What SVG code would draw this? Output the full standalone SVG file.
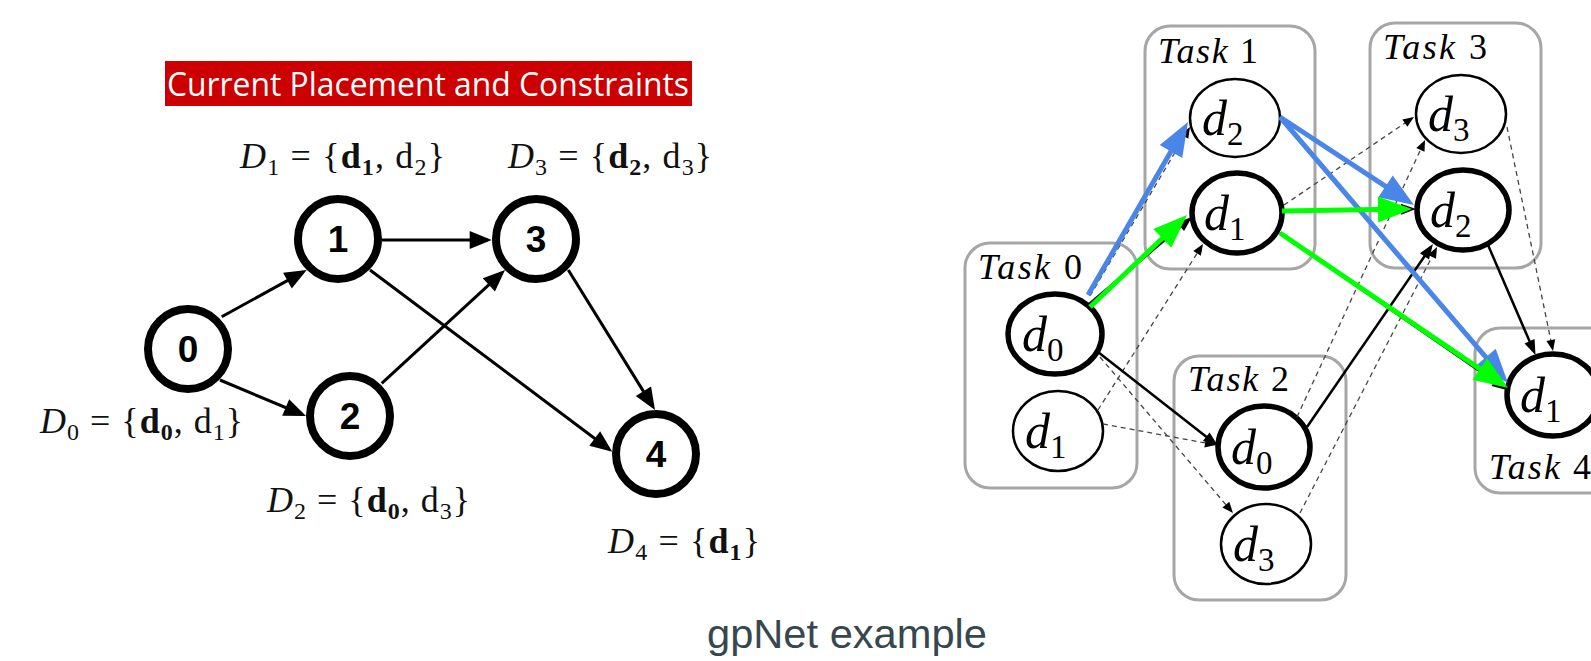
<svg xmlns="http://www.w3.org/2000/svg" width="1591" height="661" viewBox="0 0 1591 661">
<style>
.math{font-family:"Liberation Serif",serif;font-size:36px;fill:#111}
.it{font-style:italic}
.bd{font-weight:bold}
.sub{font-size:24px}
.num{font-family:"Liberation Sans",Arial,sans-serif;font-weight:bold;font-size:37px;text-anchor:middle;fill:#000}
.lnode{fill:#fff;stroke:#000;stroke-width:8}
.ledge{stroke:#000;stroke-width:3;fill:none}
.box{fill:none;stroke:#a6a6a6;stroke-width:3}
.tl{font-family:"Liberation Serif",serif;font-size:36px;fill:#000}
.thin{fill:#fff;stroke:#000;stroke-width:2.5}
.bold{fill:#fff;stroke:#000;stroke-width:5.5}
.dl{font-family:"Liberation Serif",serif;font-size:50px;fill:#000}
.ds{font-size:33px;font-style:normal}
.solid{stroke:#000;stroke-width:2.5;fill:none}
.dash{stroke:#444;stroke-width:1.3;stroke-dasharray:5 4;fill:none}
.blue{stroke:#4a86e8;stroke-width:5;fill:none}
.green{stroke:#00ff00;stroke-width:5;fill:none}
</style>
<defs>
<marker id="aL" markerUnits="userSpaceOnUse" markerWidth="22" markerHeight="18" refX="18" refY="9" orient="auto" overflow="visible"><path d="M0,0 L22,9 L0,18 z" fill="#000"/></marker>
<marker id="aR" markerUnits="userSpaceOnUse" markerWidth="15" markerHeight="11" refX="11" refY="5.5" orient="auto" overflow="visible"><path d="M0,0 L15,5.5 L0,11 z" fill="#000"/></marker>
<marker id="aD" markerUnits="userSpaceOnUse" markerWidth="11" markerHeight="9" refX="9" refY="4.5" orient="auto" overflow="visible"><path d="M0,0 L11,4.5 L0,9 z" fill="#000"/></marker>
<marker id="aB" markerUnits="userSpaceOnUse" markerWidth="34" markerHeight="26" refX="27" refY="13" orient="auto" overflow="visible"><path d="M0,0 L34,13 L0,26 z" fill="#4a86e8"/></marker>
<marker id="aG" markerUnits="userSpaceOnUse" markerWidth="34" markerHeight="26" refX="27" refY="13" orient="auto" overflow="visible"><path d="M0,0 L34,13 L0,26 z" fill="#00ff00"/></marker>
</defs>
<rect width="1591" height="661" fill="#fff"/>

<g id="title">
<rect x="165" y="61" width="527" height="45" fill="#cc0000"/>
<text x="167" y="96" font-family="'Open Sans',sans-serif" font-size="33" fill="#fff" textLength="522" lengthAdjust="spacingAndGlyphs">Current Placement and Constraints</text>
</g>

<g id="left-nodes">
<g id="n0"><circle class="lnode" cx="188" cy="349" r="40"/><text class="num" x="188" y="362">0</text></g>
<g id="n1"><circle class="lnode" cx="338" cy="239" r="40"/><text class="num" x="338" y="252">1</text></g>
<g id="n2"><circle class="lnode" cx="350" cy="416" r="40"/><text class="num" x="350" y="429">2</text></g>
<g id="n3"><circle class="lnode" cx="536" cy="239" r="40"/><text class="num" x="536" y="252">3</text></g>
<g id="n4"><circle class="lnode" cx="656" cy="454" r="40"/><text class="num" x="656" y="467">4</text></g>
</g>

<g id="left-labels">
<text class="math" x="240" y="168" textLength="205"><tspan class="it">D</tspan><tspan class="sub" dy="7">1</tspan><tspan dy="-7"> = {</tspan><tspan class="bd">d</tspan><tspan class="sub bd" dy="7">1</tspan><tspan dy="-7">, d</tspan><tspan class="sub" dy="7">2</tspan><tspan dy="-7">}</tspan></text>
<text class="math" x="508" y="168" textLength="204"><tspan class="it">D</tspan><tspan class="sub" dy="7">3</tspan><tspan dy="-7"> = {</tspan><tspan class="bd">d</tspan><tspan class="sub bd" dy="7">2</tspan><tspan dy="-7">, d</tspan><tspan class="sub" dy="7">3</tspan><tspan dy="-7">}</tspan></text>
<text class="math" x="40" y="433" textLength="203"><tspan class="it">D</tspan><tspan class="sub" dy="7">0</tspan><tspan dy="-7"> = {</tspan><tspan class="bd">d</tspan><tspan class="sub bd" dy="7">0</tspan><tspan dy="-7">, d</tspan><tspan class="sub" dy="7">1</tspan><tspan dy="-7">}</tspan></text>
<text class="math" x="267" y="512" textLength="203"><tspan class="it">D</tspan><tspan class="sub" dy="7">2</tspan><tspan dy="-7"> = {</tspan><tspan class="bd">d</tspan><tspan class="sub bd" dy="7">0</tspan><tspan dy="-7">, d</tspan><tspan class="sub" dy="7">3</tspan><tspan dy="-7">}</tspan></text>
<text class="math" x="608" y="553" textLength="152"><tspan class="it">D</tspan><tspan class="sub" dy="7">4</tspan><tspan dy="-7"> = {</tspan><tspan class="bd">d</tspan><tspan class="sub bd" dy="7">1</tspan><tspan dy="-7">}</tspan></text>
</g>

<g id="left-connectors">
<line class="ledge" x1="221.7" y1="316.7" x2="303.2" y2="271.9" marker-end="url(#aL)"/>
<line class="ledge" x1="382" y1="240" x2="487.7" y2="240" marker-end="url(#aL)"/>
<line class="ledge" x1="220" y1="380" x2="302.3" y2="414.5" marker-end="url(#aL)"/>
<line class="ledge" x1="381.7" y1="383.3" x2="502.1" y2="272.7" marker-end="url(#aL)"/>
<line class="ledge" x1="370" y1="270" x2="609.1" y2="449.3" marker-end="url(#aL)"/>
<line class="ledge" x1="568.3" y1="270" x2="652.9" y2="406.6" marker-end="url(#aL)"/>
</g>

<g id="task0">
<rect class="box" x="965" y="243" width="172" height="245" rx="25"/>
<text class="tl" x="978" y="279" textLength="104"><tspan class="it">Task</tspan> 0</text>
<ellipse class="bold" cx="1055" cy="334" rx="47" ry="40"/>
<text class="dl" x="1022" y="351"><tspan class="it">d</tspan><tspan class="ds" dy="10">0</tspan></text>
<ellipse class="thin" cx="1058" cy="431" rx="45" ry="40"/>
<text class="dl" x="1025" y="448"><tspan class="it">d</tspan><tspan class="ds" dy="10">1</tspan></text>
</g>
<g id="task1">
<rect class="box" x="1145" y="26" width="170" height="243" rx="25"/>
<text class="tl" x="1158" y="63" textLength="100"><tspan class="it">Task</tspan> 1</text>
<ellipse class="thin" cx="1235" cy="118" rx="45" ry="39"/>
<text class="dl" x="1202" y="135"><tspan class="it">d</tspan><tspan class="ds" dy="10">2</tspan></text>
<ellipse class="bold" cx="1237" cy="213" rx="45" ry="40"/>
<text class="dl" x="1204" y="230"><tspan class="it">d</tspan><tspan class="ds" dy="10">1</tspan></text>
</g>
<g id="task3">
<rect class="box" x="1370" y="23" width="171" height="245" rx="25"/>
<text class="tl" x="1383" y="59" textLength="104"><tspan class="it">Task</tspan> 3</text>
<ellipse class="thin" cx="1461" cy="114" rx="45" ry="39"/>
<text class="dl" x="1428" y="131"><tspan class="it">d</tspan><tspan class="ds" dy="10">3</tspan></text>
<ellipse class="bold" cx="1463" cy="210" rx="46" ry="40"/>
<text class="dl" x="1430" y="227"><tspan class="it">d</tspan><tspan class="ds" dy="10">2</tspan></text>
</g>
<g id="task2">
<rect class="box" x="1174" y="356" width="172" height="244" rx="25"/>
<text class="tl" x="1188" y="391" textLength="101"><tspan class="it">Task</tspan> 2</text>
<ellipse class="bold" cx="1264" cy="447" rx="46" ry="41"/>
<text class="dl" x="1231" y="464"><tspan class="it">d</tspan><tspan class="ds" dy="10">0</tspan></text>
<ellipse class="thin" cx="1266" cy="544" rx="45" ry="40"/>
<text class="dl" x="1233" y="561"><tspan class="it">d</tspan><tspan class="ds" dy="10">3</tspan></text>
</g>
<g id="task4">
<rect class="box" x="1475" y="328" width="150" height="165" rx="25"/>
<text class="tl" x="1489" y="479" textLength="102"><tspan class="it">Task</tspan> 4</text>
<ellipse class="bold" cx="1553" cy="395" rx="46" ry="41"/>
<text class="dl" x="1520" y="412"><tspan class="it">d</tspan><tspan class="ds" dy="10">1</tspan></text>
</g>

<g id="connectors">
<line class="dash" x1="1098" y1="410" x2="1201.9" y2="245.7" marker-end="url(#aD)"/>
<line class="dash" x1="1103" y1="424" x2="1214" y2="444.6" marker-end="url(#aD)"/>
<line class="dash" x1="1100" y1="357" x2="1231.7" y2="511.5" marker-end="url(#aD)"/>
<line class="dash" x1="1090" y1="296" x2="1189" y2="128.7" marker-end="url(#aD)"/>
<line class="dash" x1="1284" y1="205" x2="1412.3" y2="118.1" marker-end="url(#aD)"/>
<line class="dash" x1="1297" y1="417" x2="1424.2" y2="141.8" marker-end="url(#aD)"/>
<line class="dash" x1="1300" y1="513" x2="1436.1" y2="248.8" marker-end="url(#aD)"/>
<line class="dash" x1="1507" y1="127" x2="1552.6" y2="349" marker-end="url(#aD)"/>
<line class="solid" x1="1098" y1="352" x2="1214.9" y2="443.5" marker-end="url(#aR)"/>
<line class="solid" x1="1307" y1="427" x2="1430.7" y2="247.3" marker-end="url(#aR)"/>
<line class="solid" x1="1488" y1="245" x2="1533.9" y2="351.3" marker-end="url(#aR)"/>
<line class="solid" x1="1088" y1="305" x2="1188.9" y2="219.6" marker-end="url(#aR)"/>
<line class="solid" x1="1282" y1="211" x2="1412" y2="209" marker-end="url(#aR)"/>
<line class="solid" x1="1280" y1="233" x2="1503.7" y2="387.7" marker-end="url(#aR)"/>
<line class="blue" x1="1088" y1="295" x2="1184.5" y2="128.1" marker-end="url(#aB)"/>
<line class="blue" x1="1280" y1="117" x2="1408.1" y2="201.2" marker-end="url(#aB)"/>
<line class="blue" x1="1280" y1="117" x2="1503.4" y2="377.7" marker-end="url(#aB)"/>
<line class="green" x1="1090" y1="307" x2="1181.9" y2="219.8" marker-end="url(#aG)"/>
<line class="green" x1="1282" y1="211" x2="1405" y2="209.1" marker-end="url(#aG)"/>
<line class="green" x1="1280" y1="233" x2="1502.2" y2="384.1" marker-end="url(#aG)"/>
</g>

<text x="707" y="648" font-family="'Liberation Sans',Arial,sans-serif" font-size="40" fill="#37474f" textLength="280" lengthAdjust="spacingAndGlyphs">gpNet example</text>
</svg>
